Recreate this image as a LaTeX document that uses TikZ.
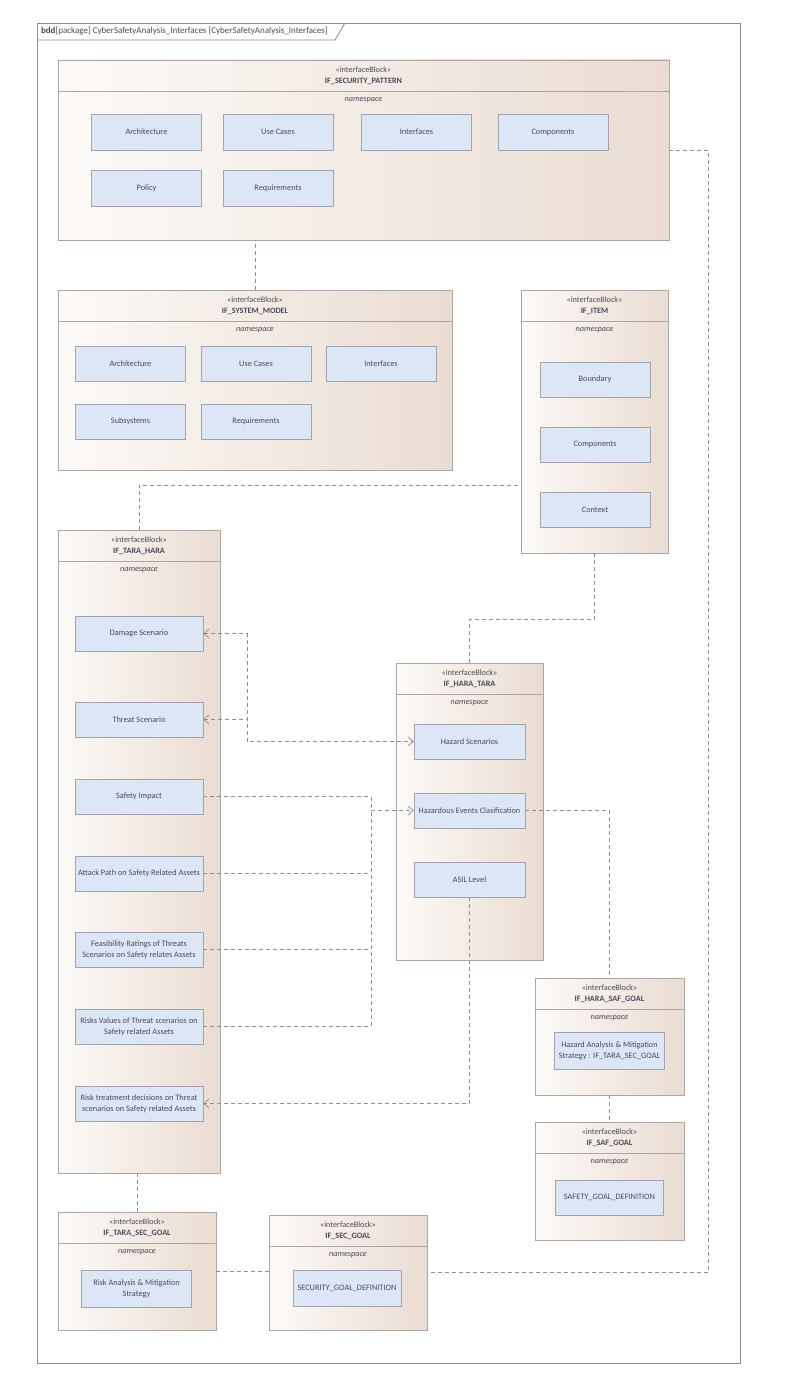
\documentclass[tikz,border=0pt]{standalone}
\usepackage{fontspec}
\setmainfont{Carlito}
\usepackage{xcolor}
\usetikzlibrary{arrows.meta,positioning,fit,calc,shadows}

\definecolor{blockL}{HTML}{FCFAF7}
\definecolor{blockR}{HTML}{EADCD1}
\definecolor{blockline}{HTML}{B0A6A1}
\definecolor{itemfill}{HTML}{DCE7F6}
\definecolor{itemline}{HTML}{A2A2B4}
\definecolor{txt}{HTML}{4A4A5C}
\definecolor{depline}{HTML}{8E8E96}

% interface block: name, x1, y1, x2, y2, title
\newcommand{\ifblock}[6]{%
  \node[block, fit={(#2,#3) (#4,#5)}] (#1) {};
  \node[stereo] (#1-title) at ($(#1.north)+(0,16)$) {«interfaceBlock»\\\textbf{#6}};
  \draw[sep] ($(#1.north west)+(0,32)$) -- ($(#1.north east)+(0,32)$);
  \node[nsp] (#1-ns) at ($(#1.north)+(0,41)$) {namespace};
}

\begin{document}
\begin{tikzpicture}[
    x=1pt, y=-1pt,
    font=\fontsize{8.3}{11}\selectfont, text=txt,
    block/.style={rectangle, draw=blockline, line width=0.8pt, inner sep=0pt,
        left color=blockL, right color=blockR,
        drop shadow={shadow xshift=1.2pt, shadow yshift=-1.2pt, opacity=0.3}},
    stereo/.style={align=center, font=\fontsize{8.2}{11.5}\selectfont},
    nsp/.style={font=\fontsize{8.2}{9}\selectfont\itshape},
    sep/.style={draw=blockline, line width=0.8pt},
    item/.style={rectangle, draw=itemline, line width=0.8pt, fill=itemfill,
        align=center, inner xsep=0pt},
    dep/.style={draw=depline, line width=0.7pt, dash pattern=on 4pt off 3pt,
        >={Straight Barb[length=5pt, width=9pt]}},
    frame/.style={draw=black!45, line width=0.8pt},
]

\useasboundingbox[fill=white] (0,0) rectangle (796,1386);

% Frame
\draw[frame] (37,23) rectangle (740,1363);
\draw[frame] (37,40) -- (335,40) -- (345,23);
\node[anchor=west, font=\fontsize{9}{10}\selectfont] (frametitle) at (37.5,31.5)
    {\textbf{bdd}[package] CyberSafetyAnalysis\_Interfaces [CyberSafetyAnalysis\_Interfaces]};

% Blocks
\ifblock{secpat}{58}{60}{669}{240}{IF\_SECURITY\_PATTERN}
\ifblock{sysmod}{58}{290}{452}{470}{IF\_SYSTEM\_MODEL}
\ifblock{item}{521}{290}{668}{553}{IF\_ITEM}
\ifblock{tarahara}{58}{530}{220}{1173}{IF\_TARA\_HARA}
\ifblock{haratara}{396}{663}{543}{960}{IF\_HARA\_TARA}
\ifblock{harasaf}{535}{978}{684}{1095}{IF\_HARA\_SAF\_GOAL}
\ifblock{safgoal}{535}{1122}{684}{1240}{IF\_SAF\_GOAL}
\ifblock{tarasec}{58}{1212}{216}{1330}{IF\_TARA\_SEC\_GOAL}
\ifblock{secgoal}{269}{1215}{427}{1330}{IF\_SEC\_GOAL}

% IF_SECURITY_PATTERN parts
\tikzset{item/.append style={minimum width=110pt, minimum height=36pt}}
\node[item] (sp-arch) at (146.5,132) {Architecture};
\node[item] (sp-uc)   at (278,132)   {Use Cases};
\node[item] (sp-if)   at (416.5,132) {Interfaces};
\node[item] (sp-comp) at (553,132)   {Components};
\node[item] (sp-pol)  at (146.5,188) {Policy};
\node[item] (sp-req)  at (278,188)   {Requirements};

% IF_SYSTEM_MODEL parts
\node[item, minimum height=35pt] (sm-arch) at (130.5,363.5) {Architecture};
\node[item, minimum height=35pt] (sm-uc)   at (256,363.5)   {Use Cases};
\node[item, minimum height=35pt] (sm-if)   at (381,363.5)   {Interfaces};
\node[item, minimum height=35pt] (sm-sub)  at (130.5,421.5) {Subsystems};
\node[item, minimum height=35pt] (sm-req)  at (256,421.5)   {Requirements};

% IF_ITEM parts
\node[item, minimum height=35pt] (it-bound) at (595,379.5) {Boundary};
\node[item, minimum height=35pt] (it-comp)  at (595,444.5) {Components};
\node[item, minimum height=35pt] (it-ctx)   at (595,509.5) {Context};

% IF_TARA_HARA parts
\tikzset{tr/.style={item, minimum width=128pt, minimum height=35pt}}
\node[tr] (damage) at (139,633.5)  {Damage Scenario};
\node[tr] (threat) at (139,719.5)  {Threat Scenario};
\node[tr] (safety) at (139,796.5)  {Safety Impact};
\node[tr] (attack) at (139,873.5)  {Attack Path on Safety Related Assets};
\node[tr] (feas)   at (139,949.5)  {Feasibility Ratings of Threats\\Scenarios on Safety relates Assets};
\node[tr] (risksv) at (139,1026.5) {Risks Values of Threat scenarios on\\Safety related Assets};
\node[tr] (risktr) at (139,1103.5) {Risk treatment decisions on Threat\\scenarios on Safety related Assets};

% IF_HARA_TARA parts
\node[item, minimum width=111pt, minimum height=35pt] (hazsc) at (469.5,741.5) {Hazard Scenarios};
\node[item, minimum width=111pt, minimum height=35pt] (hazev) at (469.5,810.5) {Hazardous Events Clasification};
\node[item, minimum width=111pt, minimum height=35pt] (asil)  at (469.5,879.5) {ASIL Level};

% goal parts
\node[item, minimum height=37pt] (hs-strat) at (609.5,1050.5) {Hazard Analysis \& Mitigation\\Strategy : IF\_TARA\_SEC\_GOAL};
\node[item, minimum width=108pt, minimum height=35pt] (sg-def) at (609.5,1197.5) {SAFETY\_GOAL\_DEFINITION};
\node[item, minimum height=37pt] (ts-strat) at (136.5,1288.5) {Risk Analysis \& Mitigation\\Strategy};
\node[item, minimum width=108pt, minimum height=36pt] (sc-def) at (347,1288) {SECURITY\_GOAL\_DEFINITION};

% Dependencies
\coordinate (jhs) at (247,741.5);
\coordinate (jhe) at (371,810.5);

\draw[dep] (sysmod.north) -- (sysmod.north |- secpat.south);
\draw[dep] (tarahara.north) |- ($(item.west)+(0,63.5)$);
\draw[dep] (item.south) |- ($(haratara.north)+(0,-43)$) -- (haratara.north);
\draw[dep,<->] (damage.east) -| (jhs) -- (hazsc.west);
\draw[dep,<-] (threat.east) -- (threat.east -| jhs);
\draw[dep,->] (safety.east) -| (jhe) -- (hazev.west);
\draw[dep] (attack.east) -- (attack.east -| jhe);
\draw[dep] (feas.east) -- (feas.east -| jhe);
\draw[dep] (risksv.east) -| (jhe);
\draw[dep,->] (asil.south) |- (risktr.east);
\draw[dep] (hazev.east) -| (harasaf.north);
\draw[dep] (harasaf.south) -- (safgoal.north);
\draw[dep] (tarasec.north |- tarahara.south) -- (tarasec.north);
\draw[dep] (tarasec.east) -- (tarasec.east -| secgoal.west);
\draw[dep] (secpat.east) -- ++(39,0) |- (secgoal.east);

\end{tikzpicture}
\end{document}
